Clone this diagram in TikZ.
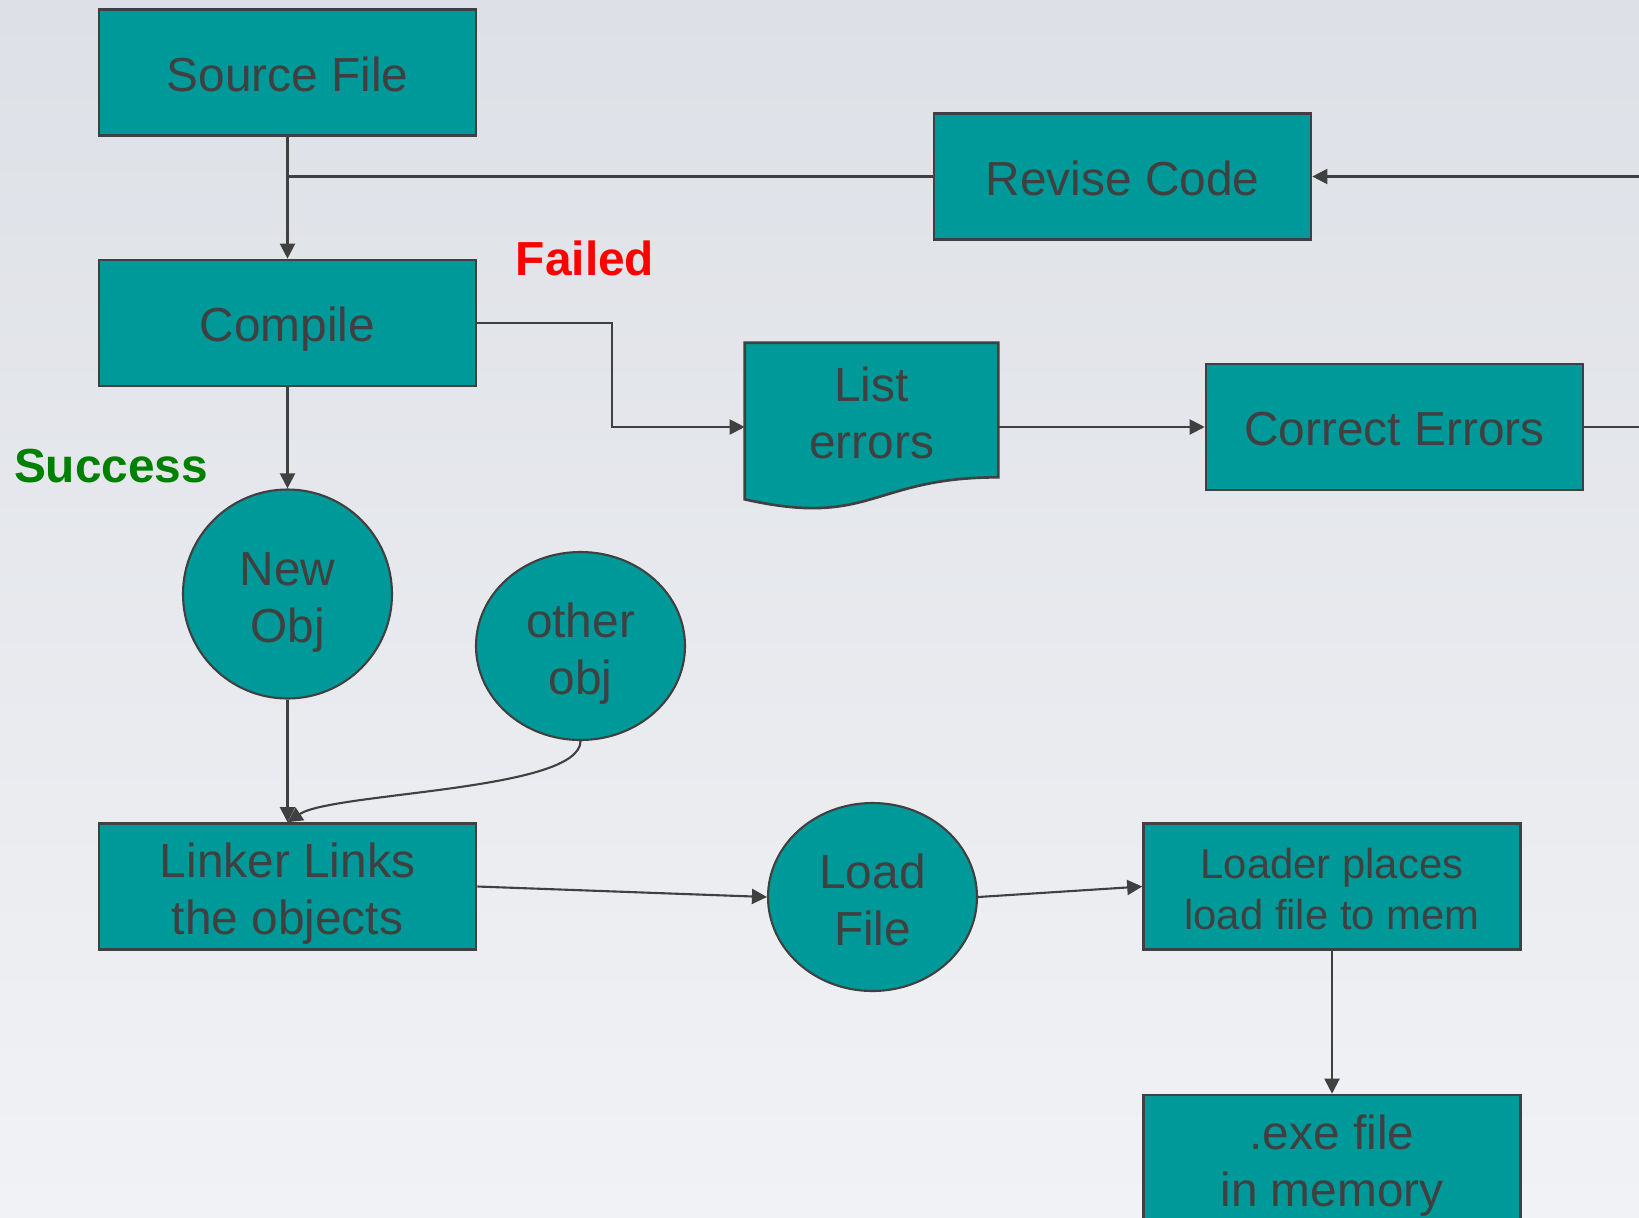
\documentclass[tikz,border=0pt]{standalone}
\usepackage{fontspec}
\setmainfont{Liberation Sans}
\usepackage{tikz}
\usetikzlibrary{arrows.meta,shapes.geometric,calc}
\definecolor{flowTeal}{HTML}{009999}
\definecolor{flowInk}{HTML}{404040}
\definecolor{flowLine}{HTML}{404040}
\definecolor{flowFail}{HTML}{FF0000}
\definecolor{flowOk}{HTML}{008000}
\definecolor{bgTop}{HTML}{DDE0E6}
\definecolor{bgBot}{HTML}{F1F2F5}

\begin{document}
\begin{tikzpicture}[
  x=0.1mm,y=0.1mm,
  font=\fontsize{13.6}{16.2}\selectfont,
  oneline/.style={text height=13.5pt,text depth=2.9pt},
  twoline/.style={text height=30.3pt,text depth=2.9pt},
  box/.style={draw=flowLine,fill=flowTeal,line width=0.75pt,text=flowInk,
              minimum width=37.7mm,minimum height=12.6mm,inner sep=0pt,align=center,oneline},
  blob/.style={ellipse,draw=flowLine,fill=flowTeal,line width=0.6pt,text=flowInk,
               minimum width=20.9mm,minimum height=18.8mm,inner sep=0pt,align=center,twoline},
  arr/.style={-{Triangle[length=1.5mm,width=1.5mm]},flowLine,line width=0.6pt},
  wire/.style={flowLine,line width=0.6pt},
  tag/.style={font=\fontsize{13.6}{16.2}\selectfont\bfseries}
]
% Canvas
\useasboundingbox (0,0) rectangle (1639,-1217);
\clip (0,0) rectangle (1639,-1217);
\shade[top color=bgTop,bottom color=bgBot] (0,0) rectangle (1639,-1217);

% Compile stage
\node[box] (source)  at (287.5,-72.5)   {Source File};
\node[box] (compile) at (287.5,-323)    {Compile};
\node[box] (revise)  at (1122.5,-176.5) {Revise Code};
\node[box,twoline,draw=none,minimum width=25.1mm,minimum height=13.2mm]
      (listerr) at (871.5,-410) {List\\errors};
\node[box] (correct) at (1394.5,-427)   {Correct Errors};

% Document outline of the error list
\fill[flowTeal] ($(listerr.south east)+(0,3)$) -- (listerr.south east)
  .. controls (listerr.south) and ($(listerr.south)+(0,-50.7)$) ..
  ($(listerr.south west)+(0,-22)$) -- ($(listerr.south west)+(0,3)$) -- cycle;
\draw[flowLine,line width=0.75pt] (listerr.north west) -- (listerr.north east)
  -- (listerr.south east)
  .. controls (listerr.south) and ($(listerr.south)+(0,-50.7)$) ..
  ($(listerr.south west)+(0,-22)$) -- cycle;

% Outcome labels
\node[tag,text=flowFail] (failed)  at (585,-258) {Failed};
\node[tag,text=flowOk]   (success) at (111,-466) {Success};

% Objects
\node[blob,minimum height=20.9mm] (newobj) at (287.5,-594) {New\\Obj};
\node[blob] (otherobj) at (580.5,-646) {other\\obj};

% Link and load
\node[box,twoline] (linker)   at (287.5,-886.5) {Linker Links\\the objects};
\node[blob]        (loadfile) at (872.5,-897)   {Load\\File};
\node[box,font=\fontsize{11.9}{14.5}\selectfont,text height=27.1pt,text depth=2.5pt]
      (loader) at (1332,-886.5) {Loader places\\load file to mem};
\node[box,twoline] (exe)      at (1332,-1158)   {.exe file\\in memory};

% Connectors
\draw[arr]  (source) -- (compile);
\draw[wire] (revise.west) -- (revise.west -| source.south);
\draw[arr]  (compile) -- (newobj);
\draw[arr]  (compile.east) -- ++(135,0) |- (correct.west -| listerr.west);
\draw[arr]  (listerr.east |- correct.west) -- (correct);
\draw[arr]  (correct.east) -- ++(150,0) |- (revise.east);
\draw[arr]  (newobj) -- (linker);
\draw[arr]  (otherobj.south)
  .. controls ($(otherobj.south)+(0,-50)$) and ($(linker.north)+(45,30)$) .. (linker.north);
\draw[arr]  (linker.east) -- (loadfile.west);
\draw[arr]  (loadfile.east) -- (loader.west);
\draw[arr]  (loader) -- (exe);
\end{tikzpicture}
\end{document}
